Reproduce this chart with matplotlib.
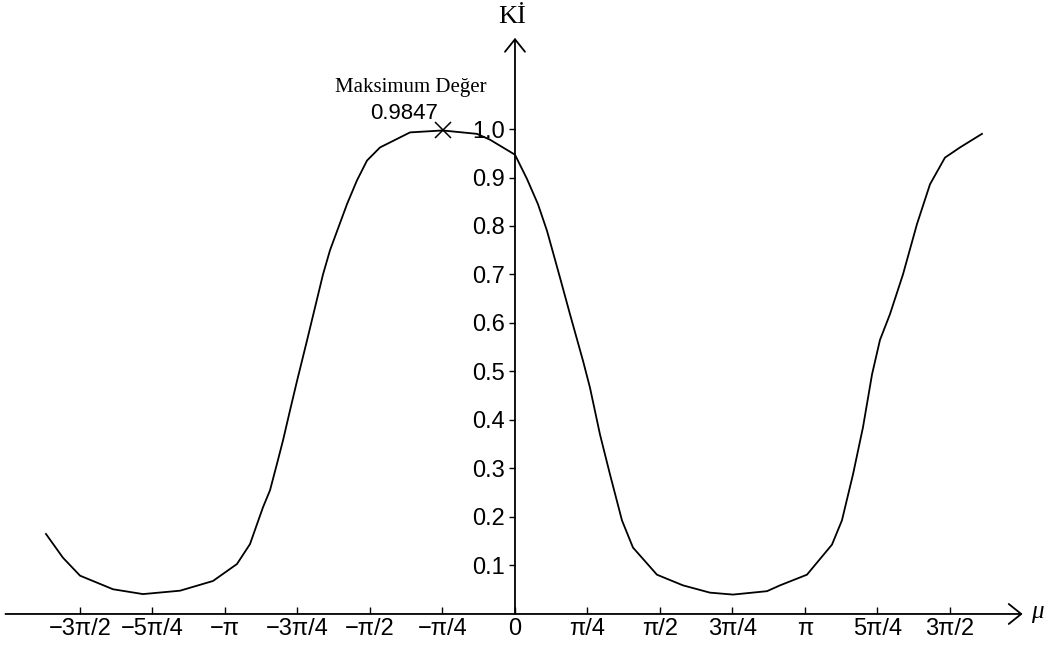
import numpy as np
import matplotlib
matplotlib.use("Agg")
import matplotlib.pyplot as plt

# curve (mu in radians)
mu = np.array([-5.081, -4.897, -4.712, -4.355, -4.030, -3.629, -3.272, -3.012,
               -2.871, -2.730, -2.654, -2.578, -2.513, -2.437, -2.362, -2.253,
               -2.080, -2.004, -1.820, -1.712, -1.603, -1.462, -1.137, -0.785,
               -0.412, -0.271, 0.0, 0.130, 0.249, 0.347, 0.487, 0.596, 0.737,
               0.812, 0.921, 1.029, 1.159, 1.278, 1.538, 1.820, 2.112, 2.362,
               2.730, 2.871, 3.163, 3.434, 3.542, 3.662, 3.770, 3.868, 3.954,
               4.062, 4.203, 4.355, 4.496, 4.658, 4.821, 5.059])
ki = np.array([0.165, 0.116, 0.079, 0.051, 0.041, 0.048, 0.068, 0.103,
               0.144, 0.220, 0.255, 0.310, 0.358, 0.420, 0.480, 0.564,
               0.700, 0.750, 0.845, 0.894, 0.935, 0.962, 0.993, 0.997,
               0.990, 0.978, 0.947, 0.897, 0.845, 0.790, 0.694, 0.618, 0.522,
               0.467, 0.370, 0.288, 0.193, 0.137, 0.081, 0.059, 0.044, 0.040,
               0.047, 0.059, 0.081, 0.143, 0.193, 0.288, 0.385, 0.494, 0.565,
               0.618, 0.700, 0.804, 0.886, 0.941, 0.962, 0.990])

xtick_k = [-6, -5, -4, -3, -2, -1, 0, 1, 2, 3, 4, 5, 6]
xtick_labels = ['−3π/2', '−5π/4', '−π', '−3π/4', '−π/2', '−π/4', '0',
                'π/4', 'π/2', '3π/4', 'π', '5π/4', '3π/2']
ytick_vals = [0.1, 0.2, 0.3, 0.4, 0.5, 0.6, 0.7, 0.8, 0.9, 1.0]
max_text = 'Maksimum Değer'
max_value = '0.9847'

num_font = ['Liberation Sans', 'DejaVu Sans']
serif_font = ['Liberation Serif', 'DejaVu Serif']

fig = plt.figure(figsize=(10.5, 6.52), dpi=100)
ax = fig.add_axes([0, 0, 1, 1])
ax.set_xlim(-5.579, 5.796)
ax.set_ylim(-0.0784, 1.266)

for s in ax.spines.values():
    s.set_visible(False)
ax.spines['left'].set_position(('data', 0))
ax.spines['bottom'].set_position(('data', 0))

# axis lines with open arrow heads
arr = dict(arrowstyle='->,head_length=0.5,head_width=0.4', lw=1.3, color='black',
           shrinkA=0, shrinkB=0, mutation_scale=18)
ax.annotate('', xy=(5.50, 0), xytext=(-5.52, 0), arrowprops=arr)
ax.annotate('', xy=(0, 1.188), xytext=(0, 0), arrowprops=arr)

ax.plot(mu, ki, color='black', lw=1.3)

# maximum marker
i = np.argmax(ki)
ax.plot(mu[i], ki[i], marker='x', color='black', ms=12, mew=1.1)
ax.annotate(max_text, xy=(mu[i], ki[i]), xytext=(-32, 43), textcoords='offset pixels',
            ha='center', va='center', fontsize=15, family=serif_font)
ax.annotate(max_value, xy=(mu[i], ki[i]), xytext=(-38, 17), textcoords='offset pixels',
            ha='center', va='center', fontsize=16, family=num_font)

ax.set_xticks(np.array(xtick_k) * np.pi / 4)
ax.set_xticklabels(xtick_labels, family=num_font, fontsize=17)
ax.set_yticks(ytick_vals)
ax.set_yticklabels(['%.1f' % v for v in ytick_vals], family=num_font, fontsize=17)
ax.tick_params(axis='x', direction='in', length=5, width=1, pad=3)
ax.tick_params(axis='y', direction='out', length=4, width=1, pad=3)

ax.annotate('Kİ', xy=(0, 1.188), xytext=(-3, 21), textcoords='offset pixels',
            ha='center', va='center', fontsize=19, family=serif_font)
ax.annotate('μ', xy=(5.50, 0), xytext=(15, 2), textcoords='offset pixels',
            ha='center', va='center', fontsize=18, family=serif_font, style='italic')

fig.savefig('out.png', dpi=100)
